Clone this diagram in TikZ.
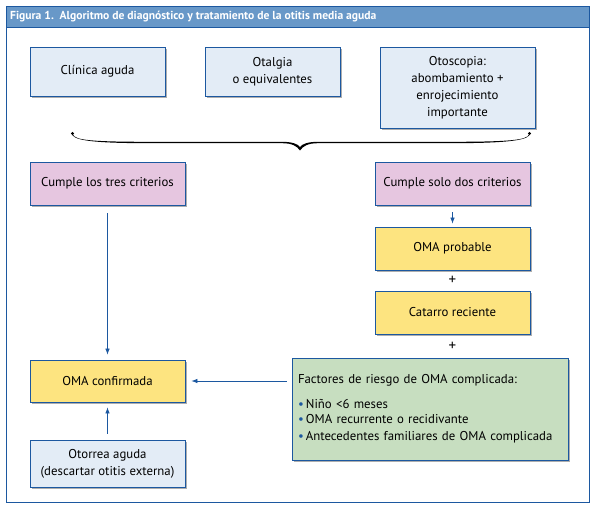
\documentclass[tikz,border=0pt]{standalone}
\usepackage{fontspec}
\setmainfont{PT Sans}
\usetikzlibrary{shadows,arrows.meta}
\definecolor{frameblue}{RGB}{28,88,160}
\definecolor{titlefill}{RGB}{104,152,200}
\definecolor{boxblue}{RGB}{227,236,246}
\definecolor{boxpink}{RGB}{230,198,224}
\definecolor{boxyellow}{RGB}{253,228,128}
\definecolor{boxgreen}{RGB}{199,222,192}
\tikzset{
  card/.style={draw=frameblue, line width=0.8pt, align=center, inner sep=2pt,
    font=\fontsize{12.8}{17}\selectfont,
    drop shadow={shadow xshift=2.2pt, shadow yshift=-2.2pt, fill=black!45, opacity=0.7}},
  bluecard/.style={card, fill=boxblue},
  pinkcard/.style={card, fill=boxpink},
  yellowcard/.style={card, fill=boxyellow},
  greencard/.style={card, fill=boxgreen},
  conn/.style={draw=frameblue, line width=0.7pt},
  arr/.style={conn, -{Latex[length=6pt,width=4.5pt]}},
  plus/.style={font=\fontsize{15}{15}\selectfont, inner sep=0pt},
}
\begin{document}
\begin{tikzpicture}[x=1pt,y=-1pt]
\useasboundingbox (0,0) rectangle (595,509);
% frame and title bar
\draw[frameblue, line width=1pt] (6,6) rectangle (589,502);
\node[draw=frameblue, line width=1pt, fill=titlefill, minimum width=583pt, minimum height=21pt, anchor=north west, inner sep=0pt] (titlebar) at (6,6) {};
\node[anchor=west, text=white, font=\bfseries\fontsize{11.6}{13}\selectfont, inner sep=0pt] (title) at (10,16.5) {Figura 1.\ \ Algoritmo de diagnóstico y tratamiento de la otitis media aguda};
% top criteria
\node[bluecard, minimum width=135pt, minimum height=49pt] (clin) at (97.5,71.5) {Clínica aguda};
\node[bluecard, minimum width=135pt, minimum height=49pt] (otal) at (272.5,71.5) {Otalgia\\o equivalentes};
\node[bluecard, minimum width=155pt, minimum height=81pt] (otos) at (457.5,87.5) {Otoscopia:\\abombamiento +\\enrojecimiento\\importante};
% brace
\fill[black] (72,133) .. controls (71,140) and (90,143.2) .. (150,143.2) -- (282,143.2) .. controls (292,143.2) and (297,146) .. (300,150.5) .. controls (303,146) and (308,143.2) .. (318,143.2) -- (450,143.2) .. controls (510,143.2) and (531,140) .. (530,133)
  -- (529,134.5) .. controls (527,140) and (510,141.8) .. (450,141.8) -- (318,141.8) .. controls (308,141.8) and (302,144) .. (300,147) .. controls (298,144) and (292,141.8) .. (282,141.8) -- (150,141.8) .. controls (90,141.8) and (75,140) .. (73,134.5) -- cycle;
\fill[black] (72.5,133.5) circle (1.6pt);
\fill[black] (529.5,133.5) circle (1.6pt);
% second row
\node[pinkcard, minimum width=155pt, minimum height=43pt] (tres) at (107.5,183.5) {Cumple los tres criterios};
\node[pinkcard, minimum width=155pt, minimum height=43pt] (dos) at (452.5,183.5) {Cumple solo dos criterios};
\node[yellowcard, minimum width=155pt, minimum height=43pt] (prob) at (452.5,248.5) {OMA probable};
\node[plus] (plus1) at (452.5,280) {+};
\node[yellowcard, minimum width=155pt, minimum height=43pt] (cat) at (452.5,312.5) {Catarro reciente};
\node[plus] (plus2) at (452.5,346) {+};
\node[greencard, minimum width=276pt, minimum height=102pt, align=left, text width=264pt] (fact) at (430,409)
  {Factores de riesgo de OMA complicada:\\[9pt]
   {\fontsize{12.8}{15.5}\selectfont
   \textcolor{frameblue}{\textbullet}\,Niño <6 meses\\
   \textcolor{frameblue}{\textbullet}\,OMA recurrente o recidivante\\
   \textcolor{frameblue}{\textbullet}\,Antecedentes familiares de OMA complicada}};
\node[yellowcard, minimum width=155pt, minimum height=42pt] (conf) at (107.5,381) {OMA confirmada};
\node[bluecard, minimum width=155pt, minimum height=47pt] (oto) at (107.5,463.5) {Otorrea aguda\\(descartar otitis externa)};
% connectors
\draw[arr, shorten <=7pt, shorten >=3pt] (dos) -- (prob);
\draw[arr, shorten <=8pt, shorten >=5pt] (tres) -- (conf);
\draw[arr, shorten <=5pt, shorten >=6pt] (fact.west |- conf) -- (conf);
\draw[arr, shorten <=6pt, shorten >=5pt] (oto) -- (conf);
\end{tikzpicture}
\end{document}
